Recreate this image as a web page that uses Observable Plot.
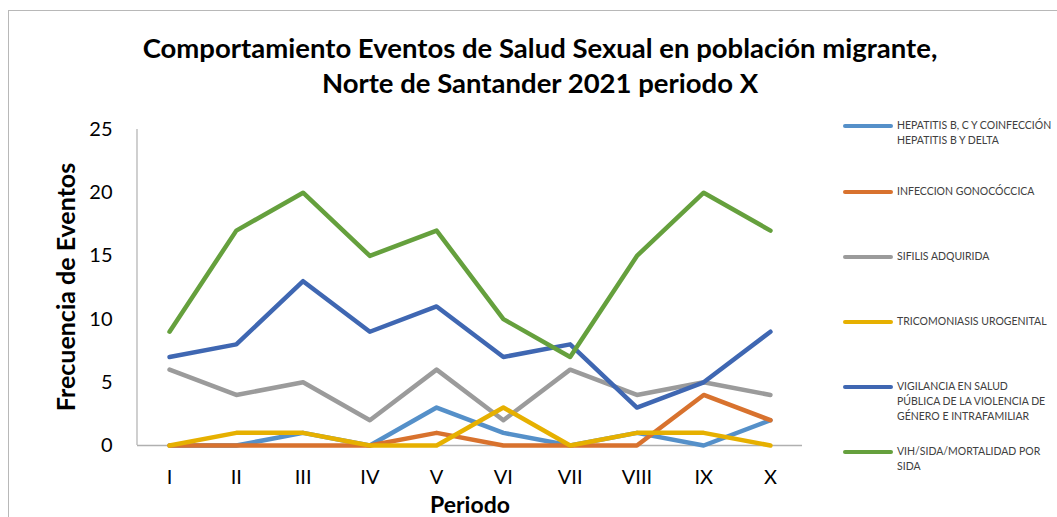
<!DOCTYPE html>
<html>
<head>
<meta charset="utf-8">
<script src="https://cdn.jsdelivr.net/npm/d3@7"></script>
<script src="https://cdn.jsdelivr.net/npm/@observablehq/plot@0.6"></script>
<style>
  html, body { margin: 0; padding: 0; background: #fff; }
  #root { position: relative; width: 1057px; height: 517px; overflow: hidden; font-family: Lato, "Open Sans", sans-serif; }
  #frame { position: absolute; left: 8px; top: 10px; width: 1200px; height: 700px; border: 1.5px solid #b8b8b8; box-sizing: border-box; }
  .title { position: absolute; left: 0; width: 1080px; text-align: center; font-weight: bold; font-size: 27.5px; line-height: 33px; color: #000; white-space: nowrap; }
  #ylab { position: absolute; left: 65px; top: 287px; transform: translate(-50%, -50%) rotate(-90deg); font-weight: bold; font-size: 25px; white-space: nowrap; color: #000; }
  #xlab { position: absolute; left: 470px; top: 504px; transform: translate(-50%, -50%); font-weight: bold; font-size: 23px; line-height: 23px; color: #000; }
  #plot { position: absolute; left: 0; top: 110px; }
  .leg { position: absolute; left: 843px; width: 210px; }
  .leg .sw { position: absolute; left: 0; width: 50px; height: 3.5px; border-radius: 2px; }
  .leg .tx { position: absolute; left: 54px; font-size: 10.5px; line-height: 15px; color: #404040; white-space: nowrap; }
</style>
</head>
<body>
<div id="root">
  <div id="frame"></div>
  <div class="title" style="top:31px">Comportamiento Eventos de Salud Sexual en población migrante,</div>
  <div class="title" style="top:66px">Norte de Santander 2021 periodo X</div>
  <div id="plot"></div>
  <div id="ylab">Frecuencia de Eventos</div>
  <div id="xlab">Periodo</div>
  <div id="legend"></div>
</div>
<script>
const periods = ["I", "II", "III", "IV", "V", "VI", "VII", "VIII", "IX", "X"];
const seriesNames = [
  "HEPATITIS B, C Y COINFECCIÓN HEPATITIS B Y DELTA",
  "INFECCION GONOCÓCCICA",
  "SIFILIS ADQUIRIDA",
  "TRICOMONIASIS UROGENITAL",
  "VIGILANCIA EN SALUD PÚBLICA DE LA VIOLENCIA DE GÉNERO E INTRAFAMILIAR",
  "VIH/SIDA/MORTALIDAD POR SIDA"
];
const legendLines = [
  ["HEPATITIS B, C Y COINFECCIÓN", "HEPATITIS B Y DELTA"],
  ["INFECCION GONOCÓCCICA"],
  ["SIFILIS ADQUIRIDA"],
  ["TRICOMONIASIS UROGENITAL"],
  ["VIGILANCIA EN SALUD", "PÚBLICA DE LA VIOLENCIA DE", "GÉNERO E INTRAFAMILIAR"],
  ["VIH/SIDA/MORTALIDAD POR", "SIDA"]
];
const hepatitis    = [0, 0, 1, 0, 3, 1, 0, 1, 0, 2];
const gonococcica  = [0, 0, 0, 0, 1, 0, 0, 0, 4, 2];
const sifilis      = [6, 4, 5, 2, 6, 2, 6, 4, 5, 4];
const tricomoniasis= [0, 1, 1, 0, 0, 3, 0, 1, 1, 0];
const violencia    = [7, 8, 13, 9, 11, 7, 8, 3, 5, 9];
const vih          = [9, 17, 20, 15, 17, 10, 7, 15, 20, 17];
const colors = ["#5590c9", "#d8722e", "#9b9b9b", "#e6b000", "#3f67b2", "#65a03d"];
const yTicks = [0, 5, 10, 15, 20, 25];

const allSeries = [hepatitis, gonococcica, sifilis, tricomoniasis, violencia, vih];
const data = [];
allSeries.forEach((vals, si) => vals.forEach((v, i) => data.push({serie: seriesNames[si], periodo: periods[i], value: v})));

// vertical axis line at the left edge of the plot frame, using Plot's y scale
const yAxisLine = (index, scales, values, dimensions) => {
  const g = d3.create("svg:line")
    .attr("x1", dimensions.marginLeft).attr("x2", dimensions.marginLeft)
    .attr("y1", scales.y(yTicks[yTicks.length - 1])).attr("y2", scales.y(0))
    .attr("stroke", "#b0b0b0").attr("stroke-width", 1.2);
  return g.node();
};

const chart = Plot.plot({
  width: 830,
  height: 407,
  marginLeft: 137,
  marginRight: 28,
  marginTop: 19,
  marginBottom: 72,
  style: {fontFamily: "Lato, 'Open Sans', sans-serif", fontSize: "20px", color: "#000", background: "transparent"},
  x: {type: "point", domain: periods, padding: 0.48, round: false},
  y: {domain: [0, 25]},
  color: {domain: seriesNames, range: colors},
  marks: [
    Plot.axisY({ticks: yTicks, tickSize: 0, tickPadding: 25, label: null, fontSize: 20}),
    Plot.axisX({tickSize: 0, tickPadding: 24, label: null, fontSize: 20}),
    yAxisLine,
    Plot.ruleY([0], {stroke: "#b0b0b0", strokeWidth: 1.5}),
    Plot.line(data, {x: "periodo", y: "value", z: "serie", stroke: "serie", strokeWidth: 4.5, strokeLinecap: "round", strokeLinejoin: "round"})
  ]
});
document.getElementById("plot").appendChild(chart);

const legendY = [126, 192, 257, 322, 387, 452];
const legend = document.getElementById("legend");
seriesNames.forEach((s, i) => {
  const d = document.createElement("div");
  d.className = "leg";
  d.style.top = legendY[i] + "px";
  d.innerHTML = `<div class="sw" style="background:${colors[i]};top:-1.75px"></div><div class="tx" style="top:-8px">${legendLines[i].join("<br>")}</div>`;
  legend.appendChild(d);
});
</script>
</body>
</html>
